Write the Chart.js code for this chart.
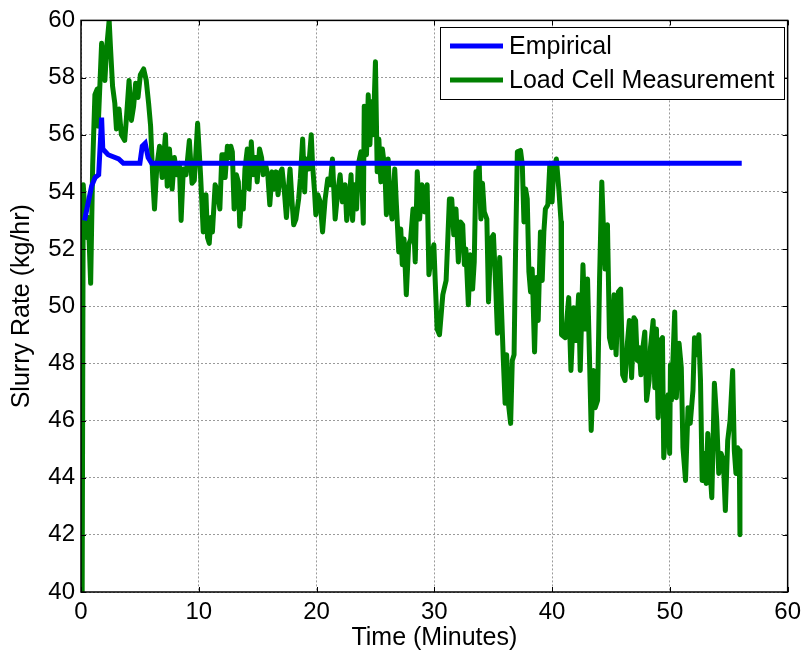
<!DOCTYPE html>
<html>
<head>
<meta charset="utf-8">
<script src="https://cdn.jsdelivr.net/npm/chart.js@4.4.1/dist/chart.umd.min.js"></script>
<style>
  body { margin: 0; background: #fff; }
</style>
</head>
<body>
<canvas id="slurryChart" width="807" height="657"></canvas>
<script>
// empirical model output (minutes, kg/hr)
let empTime = [0.3, 0.5, 0.9, 1.2, 1.5, 1.75, 1.85, 2.3, 3.2, 3.6, 5.0, 5.2, 5.45, 5.7, 6.0, 56.1]
let empRate = [53.0, 53.4, 54.2, 54.5, 54.6, 56.6, 55.5, 55.3, 55.15, 55.0, 55.0, 55.6, 55.7, 55.2, 55.0, 55.0]

// load cell readings (minutes, kg/hr)
let loadTime = [
  0.1, 0.19, 0.48, 0.62, 0.82, 0.99, 1.18, 1.38, 1.46, 1.75, 1.94, 2.03, 2.17, 2.39, 2.51, 2.68, 2.87, 3.01, 3.23, 3.43,
  3.71, 3.86, 4.08, 4.28, 4.47, 4.64, 4.84, 5.04, 5.32, 5.54, 5.74, 5.91, 6.10, 6.24, 6.44, 6.67, 6.89, 7.17, 7.32, 7.51,
  7.74, 7.93, 8.13, 8.35, 8.50, 8.69, 8.92, 9.20, 9.43, 9.62, 9.9, 10.15, 10.38,
  10.61, 10.74, 10.89, 11.03, 11.16, 11.39, 11.59, 11.79, 11.96, 12.15, 12.24, 12.43, 12.57, 12.72, 12.85, 13.0, 13.19, 13.36,
  13.48, 13.65, 13.78, 13.92, 14.12, 14.26, 14.46, 14.62, 14.83, 14.96, 15.16, 15.33, 15.47, 15.67, 15.86, 16.03, 16.23, 16.40,
  16.57, 16.73, 16.94, 17.07, 17.27, 17.44, 17.58, 17.75, 17.92, 18.06, 18.25, 18.48, 18.62, 18.82, 18.99, 19.10, 19.32, 19.55,
  19.66, 19.83, 19.94, 20.11, 20.31, 20.51,
  20.73, 20.95, 21.16, 21.35, 21.58, 21.8, 22.0, 22.19, 22.42, 22.56, 22.76, 22.93, 23.06, 23.21, 23.4, 23.54, 23.77, 23.97,
  24.05, 24.24, 24.39, 24.53, 24.67, 24.81, 25.0, 25.15, 25.29, 25.46, 25.59, 25.8, 25.93, 26.08, 26.22, 26.41, 26.64, 26.78,
  26.98, 27.15, 27.28, 27.43, 27.62, 27.82, 27.99, 28.19, 28.38, 28.55, 28.75, 28.95, 29.17, 29.39, 29.54, 29.73, 29.96, 30.07,
  30.24, 30.44,
  30.72, 31.0, 31.14, 31.28, 31.48, 31.65, 31.84, 32.04, 32.21, 32.41, 32.55, 32.68, 32.89, 33.05, 33.25, 33.39, 33.53, 33.67,
  33.81, 33.95, 34.09, 34.24, 34.46, 34.6, 34.79, 35.02, 35.22, 35.36, 35.55, 35.72, 35.86, 36.01, 36.14, 36.29, 36.48, 36.62,
  36.77, 36.9, 37.05, 37.32, 37.47, 37.61, 37.75, 37.89, 38.03, 38.17, 38.31, 38.51, 38.68, 38.82, 39.01, 39.16, 39.3, 39.43,
  39.64, 39.81, 40.0, 40.14, 40.36, 40.57, 40.76, 40.8,
  41.12, 41.41, 41.6, 41.83, 42.05, 42.25, 42.39, 42.62, 42.81, 43.01, 43.18, 43.32, 43.52, 43.66, 43.86, 44.03, 44.22, 44.36,
  44.5, 44.7, 44.87, 45.06, 45.26, 45.43, 45.63, 45.82, 45.99, 46.19, 46.39, 46.56, 46.75, 46.95, 47.09, 47.23, 47.4, 47.54,
  47.68, 47.87, 48.02, 48.24, 48.35, 48.58, 48.72, 48.86, 49.0, 49.2, 49.37, 49.48, 49.7, 49.85, 49.98,
  50.05, 50.13, 50.41, 50.55, 50.78, 50.97, 51.11, 51.33, 51.54, 51.73, 51.96, 52.09, 52.3, 52.46, 52.6, 52.74, 52.94, 53.08,
  53.22, 53.36, 53.56, 53.78, 53.98, 54.15, 54.35, 54.54, 54.71, 54.91, 55.11, 55.33, 55.47, 55.61, 55.75, 55.89, 55.95
]
let loadRate = [
  40.0, 54.25, 52.4, 53.1, 50.8, 54.9, 57.4, 57.6, 56.3, 59.2, 58.3, 57.9, 59.0, 60.0, 59.0, 57.7, 57.1, 56.2, 56.9, 56.0,
  55.8, 56.6, 57.9, 56.5, 57.0, 57.8, 57.3, 58.1, 58.3, 57.9, 57.1, 56.3, 54.4, 53.4, 54.9, 55.6, 54.5, 56.0, 54.2, 55.5,
  54.1, 55.2, 54.6, 55.0, 53.0, 54.8, 54.6, 55.8, 54.3, 54.4, 56.4, 54.6, 52.6,
  53.9, 52.4, 52.2, 53.1, 52.6, 54.25, 54.0, 53.4, 55.3, 55.3, 54.5, 55.6, 55.2, 55.6, 55.4, 53.4, 54.6, 54.35,
  52.8, 54.0, 53.4, 54.8, 55.5, 54.1, 55.75, 54.6, 55.2, 54.35, 55.5, 55.2, 54.6, 54.95, 54.6, 53.55, 54.7, 54.1,
  54.7, 53.9, 54.7, 54.8, 54.0, 53.1, 53.9, 54.8, 53.65, 52.85, 53.05, 53.75, 54.45, 55.85, 54.0, 55.15, 54.8, 56.0,
  54.95, 54.0, 53.2, 53.9, 53.65, 52.6,
  53.75, 54.45, 54.25, 55.15, 53.05, 54.0, 54.6, 53.65, 54.25, 53.0, 53.65, 54.6, 53.0, 54.25, 53.4, 54.95, 55.4, 52.9,
  57.0, 55.3, 57.4, 55.65, 57.15, 56.0, 58.55, 54.7, 55.85, 54.35, 55.5, 54.8, 53.2, 55.15, 53.75, 53.05, 54.8, 53.55,
  51.9, 52.7, 51.45, 52.35, 50.4, 52.15, 52.35, 53.4, 51.55, 54.7, 53.05, 54.25, 53.3, 54.25, 51.1, 51.7, 52.15, 50.95,
  49.2, 49.0,
  50.4, 50.9, 52.3, 53.75, 53.75, 52.5, 53.4, 51.55, 52.95, 52.85, 51.45, 52.0, 50.05, 51.8, 50.6, 51.55, 54.7, 54.35,
  55.0, 53.05, 54.3, 53.3, 53.05, 50.15, 52.35, 52.5, 50.6, 49.05, 51.7, 49.7, 48.1, 46.6, 48.3, 46.6, 45.9, 48.1,
  48.3, 52.0, 55.4, 55.45, 54.95, 52.95, 54.1, 53.75, 51.2, 50.5, 51.3, 48.4, 51.0, 49.5, 52.6, 50.9, 52.6, 53.4,
  53.55, 55.0, 53.65, 54.8, 55.15, 54.1, 52.95, 49.0,
  48.9, 50.3, 47.75, 49.95, 48.8, 50.4, 47.75, 51.45, 49.2, 50.95, 48.1, 45.65, 47.75, 46.45, 46.7, 50.95, 54.35, 52.7,
  51.3, 52.85, 48.9, 48.55, 50.4, 48.3, 50.5, 50.6, 47.6, 47.4, 48.7, 49.5, 47.5, 49.6, 49.5, 48.1, 48.55, 47.6,
  48.45, 49.1, 46.7, 47.4, 48.55, 49.5, 47.15, 49.2, 46.1, 48.8, 48.9, 44.7, 46.0, 46.9, 44.85,
  47.95, 46.7, 49.8, 46.8, 48.7, 47.85, 45.05, 43.9, 46.45, 45.9, 47.05, 48.9, 48.3, 49.0, 47.4, 43.9, 44.85, 43.8,
  45.55, 44.6, 43.3, 47.3, 46.0, 44.15, 44.85, 44.6, 42.85, 45.3, 46.0, 47.75, 44.95, 44.15, 45.05, 44.95, 42.0
]

let xTicks = [0, 10, 20, 30, 40, 50, 60]
let yTicks = [40, 42, 44, 46, 48, 50, 52, 54, 56, 58, 60]

let fontFamily = "'Liberation Sans', Arial, sans-serif"

function toPoints(times, rates) {
  return times.map(function(t, i) {
    return { x: t, y: rates[i] }
  })
}

// matlab style box with inward ticks on all 4 sides
let boxPlugin = {
  id: "matlabBox",
  afterDatasetsDraw: function(chart) {
    let ctx = chart.ctx
    let area = chart.chartArea
    let xs = chart.scales.x
    let ys = chart.scales.y
    ctx.save()
    ctx.strokeStyle = "#000"
    ctx.lineWidth = 1
    ctx.beginPath()
    xTicks.forEach(function(v) {
      let px = Math.round(xs.getPixelForValue(v)) + 0.5
      ctx.moveTo(px, area.bottom); ctx.lineTo(px, area.bottom - 5)
      ctx.moveTo(px, area.top); ctx.lineTo(px, area.top + 5)
    })
    yTicks.forEach(function(v) {
      let py = Math.round(ys.getPixelForValue(v)) + 0.5
      ctx.moveTo(area.left, py); ctx.lineTo(area.left + 5, py)
      ctx.moveTo(area.right, py); ctx.lineTo(area.right - 5, py)
    })
    ctx.stroke()
    ctx.lineWidth = 1.5
    ctx.strokeRect(area.left, area.top, area.right - area.left, area.bottom - area.top)

    // legend box inside the plot, top right
    let bx = 440, by = 27, bw = 344, bh = 72
    ctx.fillStyle = "#fff"
    ctx.fillRect(bx, by, bw, bh)
    ctx.lineWidth = 1
    ctx.strokeRect(bx + 0.5, by + 0.5, bw, bh)
    ctx.font = "25px " + fontFamily
    ctx.textBaseline = "middle"
    chart.data.datasets.forEach(function(ds, i) {
      let ly = by + 19 + i * 34
      ctx.strokeStyle = ds.borderColor
      ctx.lineWidth = 5
      ctx.beginPath()
      ctx.moveTo(bx + 10, ly); ctx.lineTo(bx + 63, ly)
      ctx.stroke()
      ctx.fillStyle = "#000"
      ctx.fillText(ds.label, bx + 69, ly + 1)
    })
    ctx.restore()
  }
}

let canvas = document.querySelector("#slurryChart")

let chartConfig = {
  type: "line",
  data: {
    datasets: [
      {
        label: "Empirical",
        data: toPoints(empTime, empRate),
        borderColor: "#0000ff",
        borderWidth: 5,
        pointRadius: 0,
        tension: 0,
        fill: false
      },
      {
        label: "Load Cell Measurement",
        data: toPoints(loadTime, loadRate),
        borderColor: "#008000",
        borderWidth: 5,
        borderJoinStyle: "round",
        pointRadius: 0,
        tension: 0,
        fill: false
      }
    ]
  },
  options: {
    responsive: false,
    animation: false,
    events: [],
    layout: { padding: { top: 18, right: 15, left: 0, bottom: 0 } },
    plugins: {
      legend: { display: false },
      tooltip: { enabled: false }
    },
    scales: {
      x: {
        type: "linear",
        min: 0,
        max: 60,
        afterBuildTicks: function(scale) {
          scale.ticks = xTicks.map(function(v) { return { value: v } })
        },
        afterFit: function(scale) { scale.height = 65 },
        ticks: { color: "#000", padding: 6, maxRotation: 0, font: { family: fontFamily, size: 24 } },
        grid: { color: "#9a9a9a", lineWidth: 1, drawTicks: false },
        border: { display: false, dash: [2, 2] },
        title: {
          display: true,
          text: "Time (Minutes)",
          color: "#000",
          font: { family: fontFamily, size: 25 },
          padding: { top: 0, bottom: 4 }
        }
      },
      y: {
        min: 40,
        max: 60,
        afterBuildTicks: function(scale) {
          scale.ticks = yTicks.map(function(v) { return { value: v } })
        },
        afterFit: function(scale) { scale.width = 81 },
        ticks: { color: "#000", padding: 6, font: { family: fontFamily, size: 24 } },
        grid: { color: "#9a9a9a", lineWidth: 1, drawTicks: false },
        border: { display: false, dash: [2, 2] },
        title: {
          display: true,
          text: "Slurry Rate (kg/hr)",
          color: "#000",
          font: { family: fontFamily, size: 25 },
          padding: { top: 7, bottom: 0 }
        }
      }
    }
  },
  plugins: [boxPlugin]
}

let slurryChart = new Chart(canvas, chartConfig)
</script>
</body>
</html>
